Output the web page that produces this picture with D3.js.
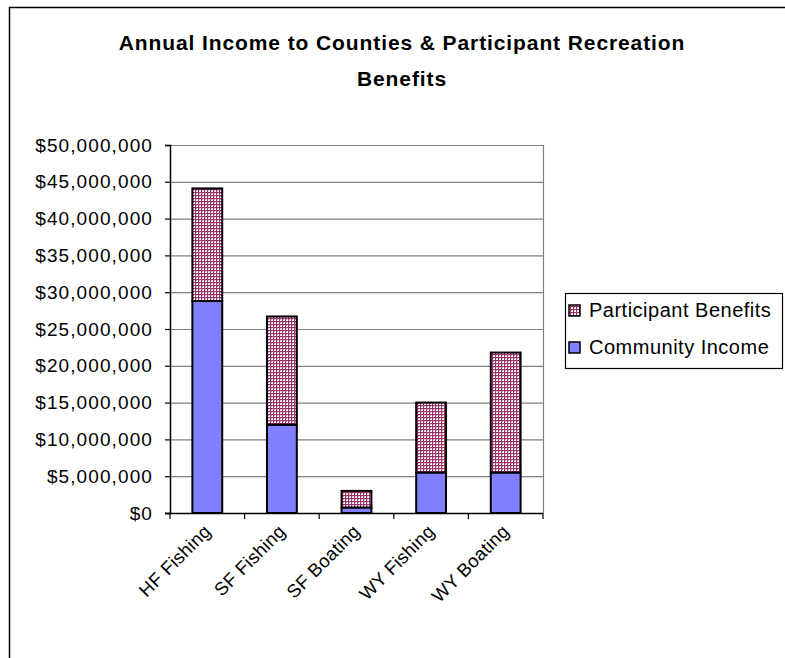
<!DOCTYPE html>
<html><head><meta charset="utf-8">
<script src="https://cdn.jsdelivr.net/npm/d3@7/dist/d3.min.js"></script>
<style>body{margin:0;background:#fff}svg{display:block;font-family:"Liberation Sans",Arial,sans-serif}</style>
</head><body>
<script>
const categories = ["HF Fishing","SF Fishing","SF Boating","WY Fishing","WY Boating"];
const communityIncome = [28800000, 12000000, 750000, 5500000, 5500000];
const participantBenefits = [15300000, 14700000, 2250000, 9500000, 16300000];
const seriesNames = ["Community Income","Participant Benefits"];
const yTicks = [0,5000000,10000000,15000000,20000000,25000000,30000000,35000000,40000000,45000000,50000000];
const title = ["Annual Income to Counties & Participant Recreation","Benefits"];

const W=785,H=658;
const svg=d3.select("body").append("svg").attr("width",W).attr("height",H);
const defs=svg.append("defs");
const pat=defs.append("pattern").attr("id","chk").attr("patternUnits","userSpaceOnUse").attr("width",3).attr("height",3);
pat.append("rect").attr("width",3).attr("height",3).attr("fill","#993366");
pat.append("rect").attr("x",1).attr("y",1).attr("width",2).attr("height",2).attr("fill","#ffffff");
pat.append("rect").attr("x",1).attr("y",1).attr("width",1).attr("height",1).attr("fill","#dd99bb");

svg.append("rect").attr("x",9.5).attr("y",7.5).attr("width",900).attr("height",900).attr("fill","#fff").attr("stroke","#000").attr("stroke-width",1.5);

const tg=svg.append("g").attr("font-weight","bold").attr("font-size",21).attr("text-anchor","middle").attr("letter-spacing","0.9px");
tg.append("text").attr("x",402).attr("y",50).text(title[0]);
tg.append("text").attr("x",402).attr("y",86).text(title[1]);

const L=170,R=543,T=145,B=513;
const x=d3.scaleBand().domain(categories).range([L,R]).paddingInner(0.6).paddingOuter(0.3);
const xb=d3.scaleBand().domain(categories).range([L,R]);
const y=d3.scaleLinear().domain([0,50000000]).range([B,T]);

// gridlines
svg.append("g").selectAll("line").data(yTicks.filter(d=>d>0)).join("line")
 .attr("x1",L).attr("x2",R).attr("y1",d=>y(d)+0.5).attr("y2",d=>y(d)+0.5).attr("stroke","#808080").attr("stroke-width",1.2);
svg.append("line").attr("x1",R+0.5).attr("x2",R+0.5).attr("y1",T).attr("y2",B).attr("stroke","#808080").attr("stroke-width",1.2);

const stack=d3.stack().keys([0,1]).value((d,k)=>k===0?communityIncome[d]:participantBenefits[d])(categories.map((c,i)=>i));
const fills=["#8080ff","url(#chk)"];
stack.forEach((s,k)=>{
  svg.append("g").selectAll("rect").data(s).join("rect")
   .attr("x",(d,i)=>x(categories[i])).attr("width",x.bandwidth())
   .attr("y",d=>y(d[1])).attr("height",d=>y(d[0])-y(d[1]))
   .attr("fill",fills[k]).attr("stroke","#000").attr("stroke-width",2);
});

// y axis
const ya=svg.append("g").attr("transform",`translate(${L},0)`)
 .call(d3.axisLeft(y).tickValues(yTicks).tickSize(5).tickPadding(12).tickFormat(d=>"$"+d3.format(",")(d)));
ya.select(".domain").attr("stroke","#000").attr("stroke-width",1.5);
ya.selectAll(".tick line").attr("stroke","#000").attr("stroke-width",1.2);
ya.selectAll(".tick text").attr("font-size",19).attr("font-family","Liberation Sans, Arial, sans-serif").attr("fill","#000").attr("letter-spacing","1.1px");

// x axis
const xa=svg.append("g").attr("transform",`translate(0,${B})`);
xa.append("line").attr("x1",L-5).attr("x2",R).attr("y1",0.5).attr("y2",0.5).attr("stroke","#000").attr("stroke-width",1.5);
const bounds=categories.map(c=>xb(c)).concat([R]);
xa.selectAll("line.t").data(bounds).join("line").attr("class","t")
 .attr("x1",d=>d).attr("x2",d=>d).attr("y1",0).attr("y2",6).attr("stroke","#000").attr("stroke-width",1.2);
xa.selectAll("text").data(categories).join("text")
 .attr("transform",d=>`translate(${xb(d)+xb.bandwidth()/2},${15}) rotate(-45)`)
 .attr("text-anchor","end").attr("font-size",18.5).attr("dy","0.35em").attr("letter-spacing","0.3px").text(d=>d);

// legend
const lg=svg.append("g");
lg.append("rect").attr("x",565.5).attr("y",293.5).attr("width",217).attr("height",75).attr("fill","#fff").attr("stroke","#000").attr("stroke-width",1.2);
const items=[{name:seriesNames[1],fill:fills[1]},{name:seriesNames[0],fill:fills[0]}];
items.forEach((it,i)=>{
  const yy=305+i*37;
  lg.append("rect").attr("x",569).attr("y",yy).attr("width",11).attr("height",11).attr("fill",it.fill).attr("stroke","#000").attr("stroke-width",1.5);
  lg.append("text").attr("x",589).attr("y",yy+12).attr("font-size",20).attr("letter-spacing","0.5px").text(it.name);
});
</script>
</body></html>
